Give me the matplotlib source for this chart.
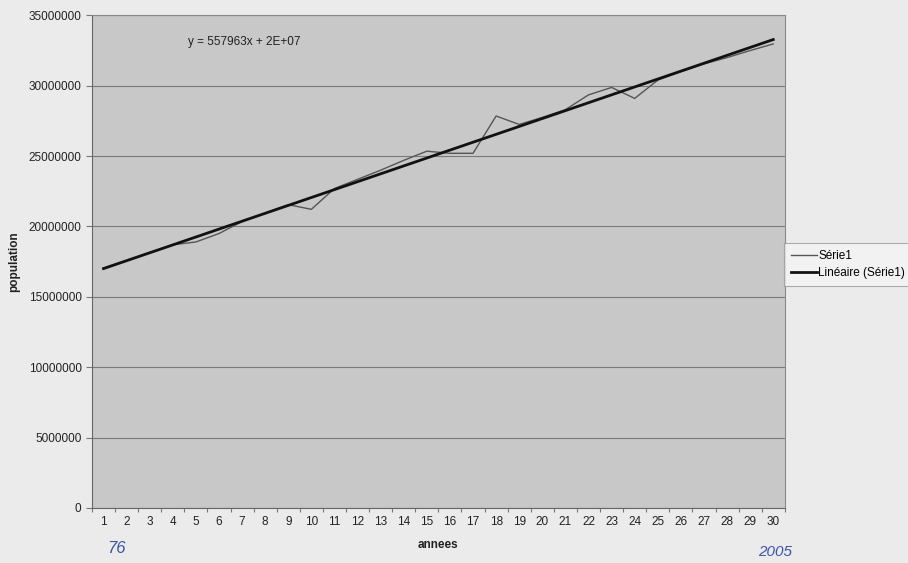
# population par annee (1976-2005) avec courbe de tendance lineaire
import numpy as np
import matplotlib.pyplot as plt
import matplotlib.ticker as mticker

plt.rcParams['font.family'] = ['Liberation Sans', 'DejaVu Sans']

# donnees
annees = list(range(1, 31))
population = [17.05, 17.6, 18.15, 18.7, 18.9, 19.5, 20.35, 20.95, 21.55, 21.22,
              22.7, 23.35, 24.0, 24.7, 25.35, 25.2, 25.2, 27.85, 27.25, 27.75,
              28.3, 29.35, 29.88, 29.1, 30.4, 31.0, 31.55, 32.0, 32.5, 32.97]
population = np.array(population) * 1e6
equation = 'y = 557963x + 2E+07'
yticks = list(range(0, 35000001, 5000000))

# regression lineaire (courbe de tendance)
a, b = np.polyfit(annees, population, 1)
tendance = a * np.array(annees) + b

fig = plt.figure(figsize=(9.08, 5.63), dpi=100)
fig.patch.set_facecolor('#ebebeb')
ax = fig.add_axes([0.1013, 0.0977, 0.763, 0.875])
ax.set_facecolor('#c8c8c8')

ax.plot(annees, population, color='#555555', lw=1, label='Série1', zorder=3)
ax.plot(annees, tendance, color='#111111', lw=2, label='Linéaire (Série1)', zorder=4)

ax.set_xlim(0.5, 30.5)
ax.set_ylim(0, 35000000)
ax.set_yticks(yticks)
ax.yaxis.set_major_formatter(mticker.FuncFormatter(lambda v, p: '%d' % v))
ax.grid(axis='y', color='#7a7a7a', lw=0.8)
ax.set_axisbelow(True)

# graduations entre les categories, etiquettes au centre
ax.set_xticks(np.arange(0.5, 31, 1))
ax.xaxis.set_major_formatter(mticker.NullFormatter())
ax.set_xticks(annees, minor=True)
ax.set_xticklabels([str(x) for x in annees], minor=True)
ax.tick_params(axis='x', which='minor', length=0, pad=6, labelsize=8.5, colors='#222222')
ax.tick_params(axis='x', which='major', length=3, color='#777777')
ax.tick_params(axis='y', length=4, color='#777777', labelsize=8.5, labelcolor='#222222')

for s in ax.spines.values():
    s.set_color('#8a8a8a')
    s.set_linewidth(0.8)
ax.spines['left'].set_color('#666666')
ax.spines['bottom'].set_color('#666666')

ax.set_xlabel('annees', fontsize=8.5, fontweight='bold', labelpad=8, color='#222222')
ax.set_ylabel('population', fontsize=8.5, fontweight='bold', labelpad=6, color='#222222')

ax.text(0.1385, 0.945, equation, transform=ax.transAxes, fontsize=8.5,
        color='#222222', va='center')

leg = fig.legend(loc='center left', bbox_to_anchor=(0.857, 0.53), fontsize=8.5,
                 frameon=True, fancybox=False, edgecolor='#999999',
                 facecolor='#f4f4f4', handlelength=2.2, handletextpad=0.1,
                 borderpad=0.6, labelspacing=0.4)
leg.get_frame().set_linewidth(0.8)

# annotations manuscrites
fig.text(0.118, 0.018, '76', color='#3a55a8', fontsize=12, style='italic')
fig.text(0.835, 0.012, '2005', color='#3a55a8', fontsize=11, style='italic')

fig.savefig('out.png', dpi=100, facecolor=fig.get_facecolor())
